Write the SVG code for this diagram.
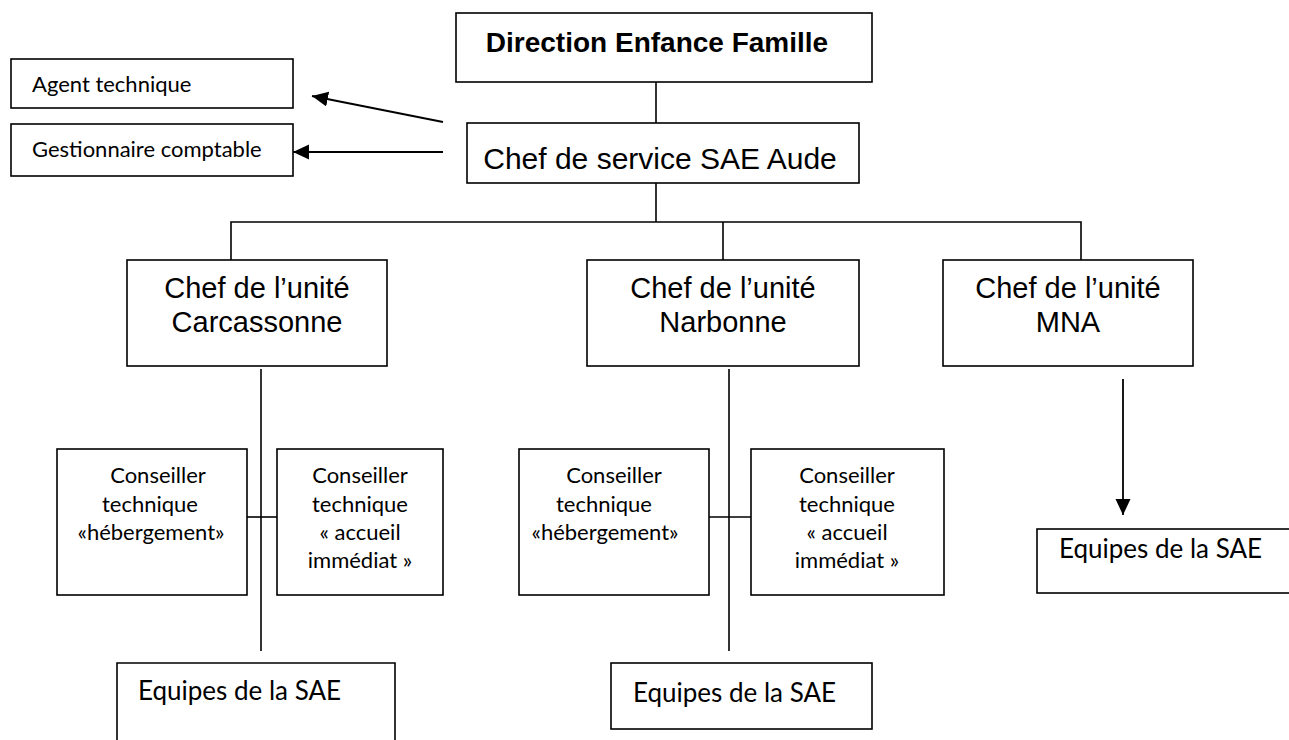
<svg xmlns="http://www.w3.org/2000/svg" width="1289" height="740" viewBox="0 0 1289 740">
<style>
.box{fill:#fff;stroke:#000;stroke-width:1.6}
.ln{fill:none;stroke:#000;stroke-width:1.6}
.ar{fill:none;stroke:#000;stroke-width:1.8}
.a{font-family:"Liberation Sans",Arial,sans-serif;fill:#000;text-anchor:middle}
.c{font-family:Lato,"Open Sans",sans-serif;fill:#000}
</style>
<defs>
<marker id="ah" markerUnits="userSpaceOnUse" markerWidth="18" markerHeight="16" refX="16" refY="7.5" orient="auto">
<path d="M0,0 L16,7.5 L0,15 Z" fill="#000"/>
</marker>
</defs>
<g id="connectors">
<line class="ln" x1="656" y1="82" x2="656" y2="123"/>
<line class="ln" x1="656" y1="183" x2="656" y2="222"/>
<polyline class="ln" points="231,260 231,222 1081,222 1081,260"/>
<line class="ln" x1="723" y1="222" x2="723" y2="260"/>
<line class="ar" x1="443" y1="122" x2="312" y2="96" marker-end="url(#ah)"/>
<line class="ar" x1="443" y1="152" x2="293" y2="152" marker-end="url(#ah)"/>
<line class="ar" x1="1123" y1="379" x2="1123" y2="515" marker-end="url(#ah)"/>
<line class="ln" x1="261" y1="369" x2="261" y2="651"/>
<line class="ln" x1="247" y1="517" x2="277" y2="517"/>
<line class="ln" x1="729" y1="369" x2="729" y2="651"/>
<line class="ln" x1="709" y1="517" x2="751" y2="517"/>
</g>
<g id="direction">
<rect class="box" x="456" y="13" width="416" height="69"/>
<text class="a" x="657" y="52" font-size="28" font-weight="bold">Direction Enfance Famille</text>
</g>
<g id="chef-service">
<rect class="box" x="467" y="123" width="392" height="60"/>
<text class="a" x="660" y="169" font-size="30">Chef de service SAE Aude</text>
</g>
<g id="agent-technique">
<rect class="box" x="11" y="59" width="282" height="49"/>
<text class="c" x="32" y="92" font-size="22">Agent technique</text>
</g>
<g id="gestionnaire">
<rect class="box" x="11" y="124" width="282" height="52"/>
<text class="c" x="32" y="157" font-size="22">Gestionnaire comptable</text>
</g>
<g id="unite-carcassonne">
<rect class="box" x="127" y="260" width="260" height="106"/>
<text class="a" x="257" y="298" font-size="29">Chef de l’unité</text>
<text class="a" x="257" y="332" font-size="29">Carcassonne</text>
</g>
<g id="unite-narbonne">
<rect class="box" x="587" y="260" width="272" height="106"/>
<text class="a" x="723" y="298" font-size="29">Chef de l’unité</text>
<text class="a" x="723" y="332" font-size="29">Narbonne</text>
</g>
<g id="unite-mna">
<rect class="box" x="943" y="260" width="250" height="106"/>
<text class="a" x="1068" y="298" font-size="29">Chef de l’unité</text>
<text class="a" x="1068" y="332" font-size="29">MNA</text>
</g>
<g id="ct-heb-carcassonne">
<rect class="box" x="57" y="449" width="190" height="146"/>
<text class="c" text-anchor="middle" font-size="22"><tspan x="158" y="483">Conseiller</tspan><tspan x="150" y="512">technique</tspan><tspan x="151" y="540">«hébergement»</tspan></text>
</g>
<g id="ct-accueil-carcassonne">
<rect class="box" x="277" y="449" width="166" height="146"/>
<text class="c" text-anchor="middle" font-size="22"><tspan x="360" y="483">Conseiller</tspan><tspan x="360" y="512">technique</tspan><tspan x="360" y="540">« accueil</tspan><tspan x="360" y="568">immédiat »</tspan></text>
</g>
<g id="ct-heb-narbonne">
<rect class="box" x="519" y="449" width="190" height="146"/>
<text class="c" text-anchor="middle" font-size="22"><tspan x="614" y="483">Conseiller</tspan><tspan x="604" y="512">technique</tspan><tspan x="605" y="540">«hébergement»</tspan></text>
</g>
<g id="ct-accueil-narbonne">
<rect class="box" x="751" y="449" width="193" height="146"/>
<text class="c" text-anchor="middle" font-size="22"><tspan x="847" y="483">Conseiller</tspan><tspan x="847" y="512">technique</tspan><tspan x="847" y="540">« accueil</tspan><tspan x="847" y="568">immédiat »</tspan></text>
</g>
<g id="equipes-carcassonne">
<path class="box" d="M117,745 L117,663 L395,663 L395,745"/>
<text class="c" x="138" y="700" font-size="26">Equipes de la SAE</text>
</g>
<g id="equipes-narbonne">
<rect class="box" x="611" y="663" width="261" height="66"/>
<text class="c" x="633" y="702" font-size="26">Equipes de la SAE</text>
</g>
<g id="equipes-mna">
<rect class="box" x="1037" y="529" width="260" height="64"/>
<text class="c" x="1059" y="558" font-size="26">Equipes de la SAE</text>
</g>
</svg>
